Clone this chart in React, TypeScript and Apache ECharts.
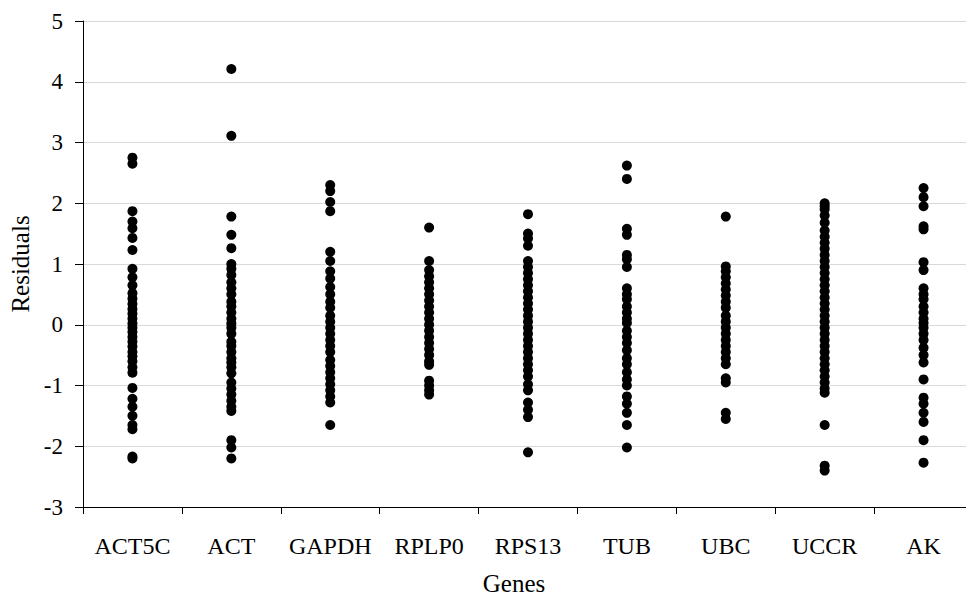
import React, { useEffect, useRef } from "react";
import * as echarts from "echarts";

const genes = ["ACT5C", "ACT", "GAPDH", "RPLP0", "RPS13", "TUB", "UBC", "UCCR", "AK"];

const act5c = [2.75, 2.65, 1.87, 1.7, 1.59, 1.43, 1.23, 0.92, 0.78, 0.65, 0.52, 0.43, 0.34, 0.26, 0.18, 0.1, 0.02, -0.05, -0.12, -0.2, -0.28, -0.36, -0.45, -0.52, -0.6, -0.7, -0.79, -1.04, -1.22, -1.35, -1.5, -1.65, -1.72, -2.17, -2.2];
const act = [4.21, 3.11, 1.78, 1.48, 1.26, 1.0, 0.92, 0.82, 0.7, 0.6, 0.5, 0.38, 0.3, 0.2, 0.1, 0.02, -0.05, -0.15, -0.28, -0.35, -0.45, -0.55, -0.62, -0.7, -0.8, -0.95, -1.05, -1.15, -1.25, -1.35, -1.42, -1.9, -2.02, -2.2];
const gapdh = [2.3, 2.2, 2.02, 1.87, 1.2, 1.05, 0.88, 0.76, 0.62, 0.5, 0.38, 0.28, 0.15, 0.05, -0.05, -0.15, -0.25, -0.35, -0.45, -0.58, -0.68, -0.78, -0.88, -0.98, -1.08, -1.18, -1.28, -1.65];
const rplp0 = [1.6, 1.05, 0.9, 0.8, 0.7, 0.6, 0.5, 0.4, 0.3, 0.2, 0.1, 0.0, -0.1, -0.2, -0.3, -0.4, -0.5, -0.6, -0.66, -0.92, -1.0, -1.08, -1.15];
const rps13 = [1.82, 1.5, 1.42, 1.3, 1.05, 0.95, 0.85, 0.75, 0.65, 0.55, 0.45, 0.35, 0.25, 0.15, 0.05, -0.05, -0.15, -0.25, -0.35, -0.45, -0.55, -0.65, -0.75, -0.85, -0.98, -1.08, -1.28, -1.4, -1.52, -2.1];
const tub = [2.62, 2.4, 1.58, 1.48, 1.15, 1.08, 0.95, 0.6, 0.5, 0.42, 0.3, 0.2, 0.1, 0.03, -0.1, -0.2, -0.3, -0.42, -0.55, -0.65, -0.78, -0.9, -1.0, -1.18, -1.3, -1.45, -1.65, -2.02];
const ubc = [1.78, 0.96, 0.88, 0.78, 0.68, 0.58, 0.48, 0.38, 0.28, 0.15, 0.05, -0.05, -0.15, -0.25, -0.35, -0.45, -0.55, -0.65, -0.88, -0.95, -1.45, -1.55];
const uccr = [2.0, 1.95, 1.9, 1.8, 1.68, 1.55, 1.45, 1.35, 1.25, 1.15, 1.05, 0.95, 0.85, 0.75, 0.65, 0.55, 0.45, 0.35, 0.25, 0.15, 0.05, -0.05, -0.15, -0.25, -0.35, -0.45, -0.55, -0.65, -0.75, -0.85, -0.95, -1.05, -1.12, -1.65, -2.32, -2.4];
const ak = [2.25, 2.1, 1.95, 1.62, 1.57, 1.03, 0.9, 0.6, 0.5, 0.42, 0.3, 0.2, 0.1, 0.03, -0.05, -0.15, -0.25, -0.38, -0.5, -0.62, -0.9, -1.2, -1.3, -1.45, -1.6, -1.9, -2.27];

const residuals = [act5c, act, gapdh, rplp0, rps13, tub, ubc, uccr, ak];

export default function App() {
  const ref = useRef<HTMLDivElement>(null);
  useEffect(() => {
    if (!ref.current) return;
    const chart = echarts.init(ref.current, undefined, { renderer: "svg" });
    const points: number[][] = [];
    residuals.forEach((vals, i) => vals.forEach((v) => points.push([i, v])));
    const font = "Liberation Serif";
    chart.setOption({
      animation: false,
      backgroundColor: "#ffffff",
      grid: { left: 83, right: -7, top: 21, bottom: 92, containLabel: false, outerBoundsMode: "none" },
      xAxis: {
        type: "category",
        data: genes,
        boundaryGap: true,
        name: "Genes",
        nameLocation: "middle",
        nameGap: 64,
        nameTextStyle: { fontFamily: font, fontSize: 25, color: "#000", padding: [0, 28, 0, 0] },
        axisLine: { onZero: false, lineStyle: { color: "#000", width: 1 } },
        axisTick: { show: true, alignWithLabel: false, length: 7, lineStyle: { color: "#000" } },
        axisLabel: { fontFamily: font, fontSize: 24, color: "#000", margin: 27, interval: 0 },
        splitLine: { show: false },
      },
      yAxis: {
        type: "value",
        min: -3,
        max: 5,
        interval: 1,
        name: "Residuals",
        nameLocation: "middle",
        nameGap: 42,
        nameTextStyle: { fontFamily: font, fontSize: 25, color: "#000" },
        axisLine: { show: true, onZero: false, lineStyle: { color: "#000", width: 1 } },
        axisTick: { show: true, length: 8, lineStyle: { color: "#000" } },
        axisLabel: { fontFamily: font, fontSize: 23, color: "#000", margin: 20 },
        splitLine: { show: true, lineStyle: { color: "#d9d9d9", width: 1 } },
      },
      series: [
        {
          type: "scatter",
          data: points,
          symbol: "circle",
          symbolSize: 10,
          itemStyle: { color: "#000000", opacity: 1 },
        },
      ],
    });
    return () => chart.dispose();
  }, []);
  return (
    <div
      ref={ref}
      style={{ position: "absolute", left: 0, top: 0, width: 966, height: 599 }}
    />
  );
}
